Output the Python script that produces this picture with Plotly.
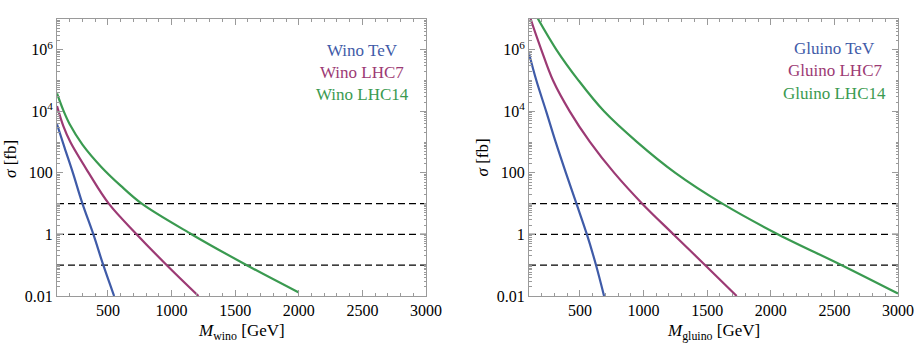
import plotly.graph_objects as go
from plotly.subplots import make_subplots

# Masses in GeV, cross sections in fb
MASS_RANGE = [100, 3000]
SIGMA_LIMITS = [10, 1, 0.1]

wino_tev_m = [100, 160, 225, 300, 386, 464, 549]
wino_tev_s = [3800, 650, 100, 10, 1, 0.1, 0.01]
wino_lhc7_m = [100, 150, 205, 349, 507, 727, 963, 1212]
wino_lhc7_s = [14800, 3300, 1e3, 100, 10, 1, 0.1, 0.01]
wino_lhc14_m = [100, 150, 200, 300, 450, 600, 766, 1160, 1592, 2000]
wino_lhc14_s = [38000, 10700, 3800, 830, 153, 38.5, 10, 1, 0.1, 0.013]

gluino_tev_m = [100, 158, 235, 310, 390, 473, 555, 627, 690]
gluino_tev_s = [7.6e5, 1e5, 1e4, 1e3, 100, 10, 1, 0.1, 0.01]
gluino_lhc7_m = [100, 113, 197, 289, 420, 580, 770, 990, 1236, 1485, 1732]
gluino_lhc7_s = [1.5e7, 1e7, 1e6, 1e5, 1e4, 1e3, 100, 10, 1, 0.1, 0.01]
gluino_lhc14_m = [158, 316, 490, 690, 950, 1250, 1620, 2059, 2558, 3000]
gluino_lhc14_s = [1.25e7, 1e6, 1e5, 1e4, 1e3, 100, 10, 1, 0.1, 0.012]

y_tickvals = [1e-2, 1, 100, 1e4, 1e6]
y_ticktext = ["0.01", "1", "100", "10<sup>4</sup>", "10<sup>6</sup>"]
# odd decades and 2..9 sub-decade marks get short ticks only
y_minorvals = [k * 10.0 ** e for e in range(-2, 7) for k in range(1, 10)][1:] + [1e7]
y_minorvals = [v for v in y_minorvals if v not in y_tickvals]
x_tickvals = [500, 1000, 1500, 2000, 2500, 3000]

BLUE = "#3f5ba8"
MAGENTA = "#9c3a74"
GREEN = "#3a9a50"
FRAME = "#9a9a9a"
FONT = "Liberation Serif"

panels = [
    ("Wino", [(wino_tev_m, wino_tev_s), (wino_lhc7_m, wino_lhc7_s), (wino_lhc14_m, wino_lhc14_s)]),
    ("Gluino", [(gluino_tev_m, gluino_tev_s), (gluino_lhc7_m, gluino_lhc7_s), (gluino_lhc14_m, gluino_lhc14_s)]),
]
colors = [BLUE, MAGENTA, GREEN]

fig = make_subplots(rows=1, cols=2)

for col, (name, curves) in enumerate(panels, start=1):
    for level in SIGMA_LIMITS:
        fig.add_trace(
            go.Scatter(x=MASS_RANGE, y=[level, level], mode="lines",
                       line=dict(color="black", width=1.3, dash="7px,4px"),
                       showlegend=False, hoverinfo="skip"),
            row=1, col=col,
        )
    for (m, s), color in zip(curves, colors):
        fig.add_trace(
            go.Scatter(x=m, y=s, mode="lines",
                       line=dict(color=color, width=2.2, shape="spline", smoothing=1),
                       showlegend=False),
            row=1, col=col,
        )

axis_common = dict(
    showline=True, linecolor=FRAME, linewidth=1, mirror="ticks",
    ticks="inside", ticklen=6, tickcolor=FRAME, showgrid=False, zeroline=False,
    tickfont=dict(family=FONT, size=16, color="black"),
)

for col in (1, 2):
    fig.update_xaxes(
        range=MASS_RANGE, tickvals=x_tickvals,
        minor=dict(ticks="inside", ticklen=3, tickcolor=FRAME, dtick=100, tick0=0),
        row=1, col=col, **axis_common,
    )
    fig.update_yaxes(
        type="log", range=[-2, 7], tickvals=y_tickvals, ticktext=y_ticktext,
        minor=dict(ticks="inside", ticklen=2.5, tickcolor=FRAME,
                   tickmode="array", tickvals=y_minorvals),
        row=1, col=col, **axis_common,
    )

# plot areas in pixels: left 57-426, right 529-898, top 19, bottom 296
W, H = 915, 361
L, R, T, B = 57, 17, 19, 65
pw, ph = W - L - R, H - T - B


def px(x):
    return (x - L) / pw


def py(y):
    return (H - B - y) / ph


fig.update_layout(
    width=W, height=H,
    margin=dict(l=L, r=R, t=T, b=B, autoexpand=False),
    plot_bgcolor="white", paper_bgcolor="white",
    xaxis=dict(domain=[0, px(426)]),
    xaxis2=dict(domain=[px(529), 1]),
    font=dict(family=FONT, size=16, color="black"),
)

legend_pos = {
    "Wino": (362, [50, 72.3, 94.6]),
    "Gluino": (834.5, [48, 70.6, 93]),
}
labels = ["TeV", "LHC7", "LHC14"]
for name, (lx, lys) in legend_pos.items():
    for label, ly, color in zip(labels, lys, colors):
        fig.add_annotation(
            x=px(lx), y=py(ly), xref="paper", yref="paper",
            text=f"{name} {label}", showarrow=False,
            xanchor="center", yanchor="middle",
            font=dict(family=FONT, size=17, color=color),
        )

# axis titles
for tx, ty in [(10, 159), (482, 157.5)]:
    fig.add_annotation(
        x=px(tx), y=py(ty), xref="paper", yref="paper",
        text="<i>σ</i> [fb]", showarrow=False, textangle=-90,
        xanchor="center", yanchor="middle",
        font=dict(family=FONT, size=17),
    )
for tx, sub in [(241, "wino"), (713, "gluino")]:
    fig.add_annotation(
        x=px(tx), y=py(332), xref="paper", yref="paper",
        text=f"<i>M</i><sub>{sub}</sub> [GeV]", showarrow=False,
        xanchor="center", yanchor="middle",
        font=dict(family=FONT, size=17),
    )

fig.write_html(
    "out.html",
    config={"displayModeBar": False},
    post_script="document.body.style.margin = '0';",
)
